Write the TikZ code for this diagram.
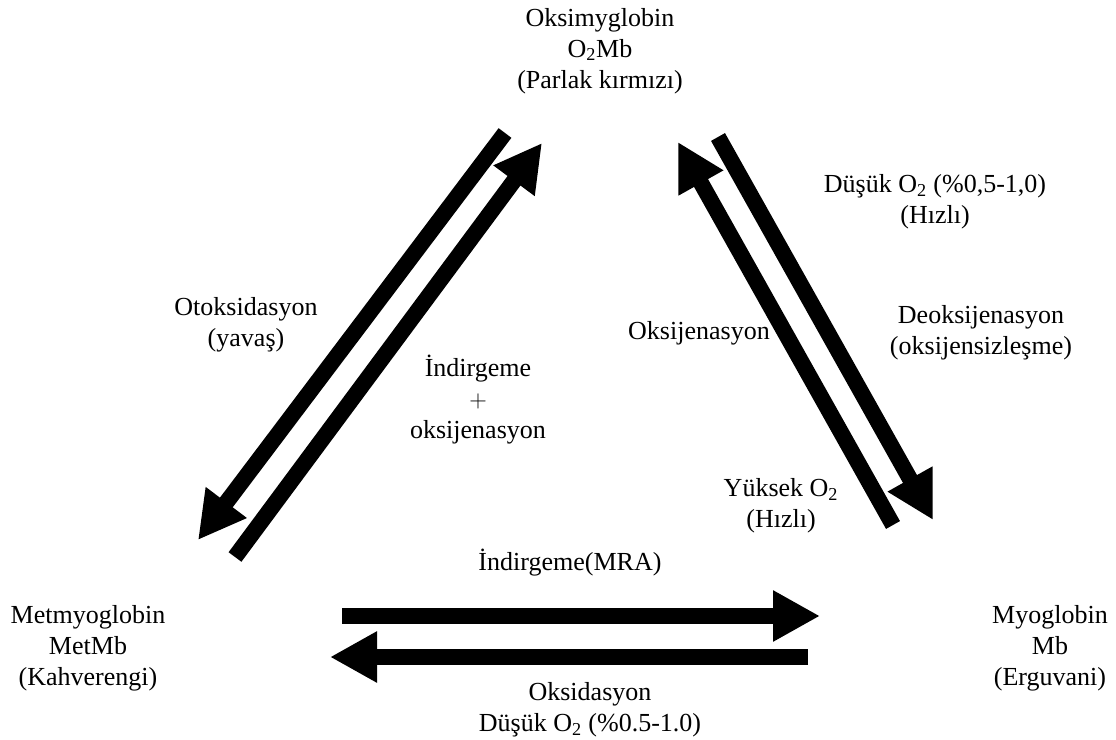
\documentclass[tikz,border=0pt]{standalone}
\usepackage{fontspec}
\setmainfont{Liberation Serif}
\usetikzlibrary{arrows.meta}

\begin{document}
\begin{tikzpicture}[x=0.025cm,y=-0.025cm,
    lbl/.style={align=center,inner sep=0pt,font=\fontsize{18.5}{22}\selectfont},
    flow/.style={line width=0.4cm,-{Triangle[length=1.175cm,width=1.2cm]}}]
  \useasboundingbox (0,0) rectangle (1116,740);
  % the three myoglobin forms
  \node[lbl] (oxy) at (600,51) {Oksimyglobin\\O\textsubscript{2}Mb\\(Parlak kırmızı)};
  \node[lbl] (met) at (88,648) {Metmyoglobin\\MetMb\\(Kahverengi)};
  \node[lbl] (deo) at (1050,648) {Myoglobin\\Mb\\(Erguvani)};
  % arrow ends
  \coordinate (otoxA) at (505,133);  \coordinate (otoxB) at (198,540);
  \coordinate (redoxA) at (235,557); \coordinate (redoxB) at (542,143);
  \coordinate (deoxA) at (718,137);  \coordinate (deoxB) at (933,520);
  \coordinate (oxgA) at (893,525);   \coordinate (oxgB) at (678,142);
  \coordinate (mraA) at (342,616);   \coordinate (mraB) at (820,616);
  \coordinate (oxdA) at (808,657);   \coordinate (oxdB) at (330,657);
  \foreach \a/\b in {otoxA/otoxB,redoxA/redoxB,deoxA/deoxB,oxgA/oxgB,mraA/mraB,oxdA/oxdB}
    \draw[flow] (\a) -- (\b);
  % labels
  \node[lbl] (otoxL) at (246,325) {Otoksidasyon\\(yavaş)};
  \node[lbl] (redoxL) at (478,400) {İndirgeme\\$+$\\oksijenasyon};
  \node[lbl] (lowL) at (935,202) {Düşük O\textsubscript{2} (\%0,5-1,0)\\(Hızlı)};
  \node[lbl] (oxgL) at (699,333) {Oksijenasyon};
  \node[lbl] (deoxL) at (981,333) {Deoksijenasyon\\(oksijensizleşme)};
  \node[lbl] (highL) at (781,506) {Yüksek O\textsubscript{2}\\(Hızlı)};
  \node[lbl] (mraL) at (570,563) {İndirgeme(MRA)};
  \node[lbl] (oxdL) at (590,710) {Oksidasyon\\Düşük O\textsubscript{2} (\%0.5-1.0)};
\end{tikzpicture}
\end{document}
